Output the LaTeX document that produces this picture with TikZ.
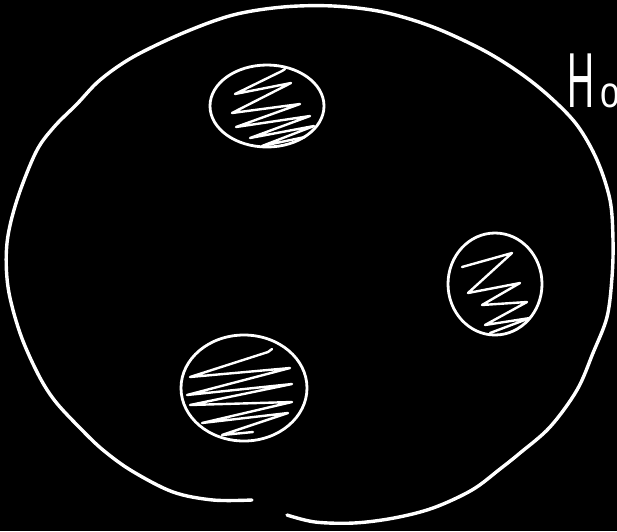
\documentclass[tikz,border=0pt]{standalone}
\usepackage{fontspec}
\usepackage{graphicx}
\setmainfont{Liberation Sans}
\begin{document}
\begin{tikzpicture}[x=1pt,y=-1pt,
  outline/.style={draw=white, line width=3.4pt, line cap=round, line join=round},
  ballrim/.style={draw=white, line width=2.8pt},
  hatch/.style={draw=white, line width=2.4pt, line cap=round, line join=round},
  label/.style={text=white, inner sep=0pt, anchor=base west}]
\fill[black] (0,0) rectangle (617,531);
\useasboundingbox (0,0) rectangle (617,531);
\begin{scope}
\clip (0,0) rectangle (617,531);
% big hand-drawn outline with a gap at the bottom
\draw[outline] plot[smooth, tension=0.55] coordinates {
 (287,515) (315,522) (354,523) (394,518) (433,508) (472,490) (500,469)
 (520,453) (550,427) (577,390) (593,353) (607,317) (612,277) (613,240)
 (610,200) (597,160) (577,125) (550,97) (520,73) (483,50) (433,27) (383,12)
 (333,6) (283,7) (233,15) (183,33) (133,57) (100,80) (77,104) (54,127)
 (36,152) (17,200) (7,243) (8,287) (20,333) (38,374) (55,401) (80,428)
 (103,450) (132,471) (173,492) (213,500) (252,500)};
% top ball
\draw[ballrim] (267,106) ellipse [x radius=57, y radius=41];
\draw[hatch] (285,69) -- (282,71) -- (235,94) -- (291,83) -- (232,113)
  -- (300,104) -- (236,127) -- (310,116) -- (250,138) -- (314,126)
  -- (262,146) -- (305,137);
% right ball
\draw[ballrim] (495,284) ellipse [x radius=47, y radius=51];
\draw[hatch] (462,267) -- (512,253) -- (468,293) -- (520,283) -- (482,305)
  -- (527,302) -- (485,325) -- (530,318) -- (490,333);
% bottom ball
\draw[ballrim] (244,388) ellipse [x radius=63, y radius=53];
\draw[hatch] (272,349) -- (268,352) -- (190,377) -- (290,368) -- (187,395)
  -- (292,384) -- (190,405) -- (292,402) -- (202,423) -- (288,413)
  -- (222,435) -- (253,432);
% cut-off label
\node[label] (ho) at (567,107) {\scalebox{0.48}[1]{\fontsize{78}{78}\selectfont H}\hspace{6pt}\scalebox{0.8}[1]{\fontsize{44}{44}\selectfont o}};
\end{scope}
\end{tikzpicture}
\end{document}
